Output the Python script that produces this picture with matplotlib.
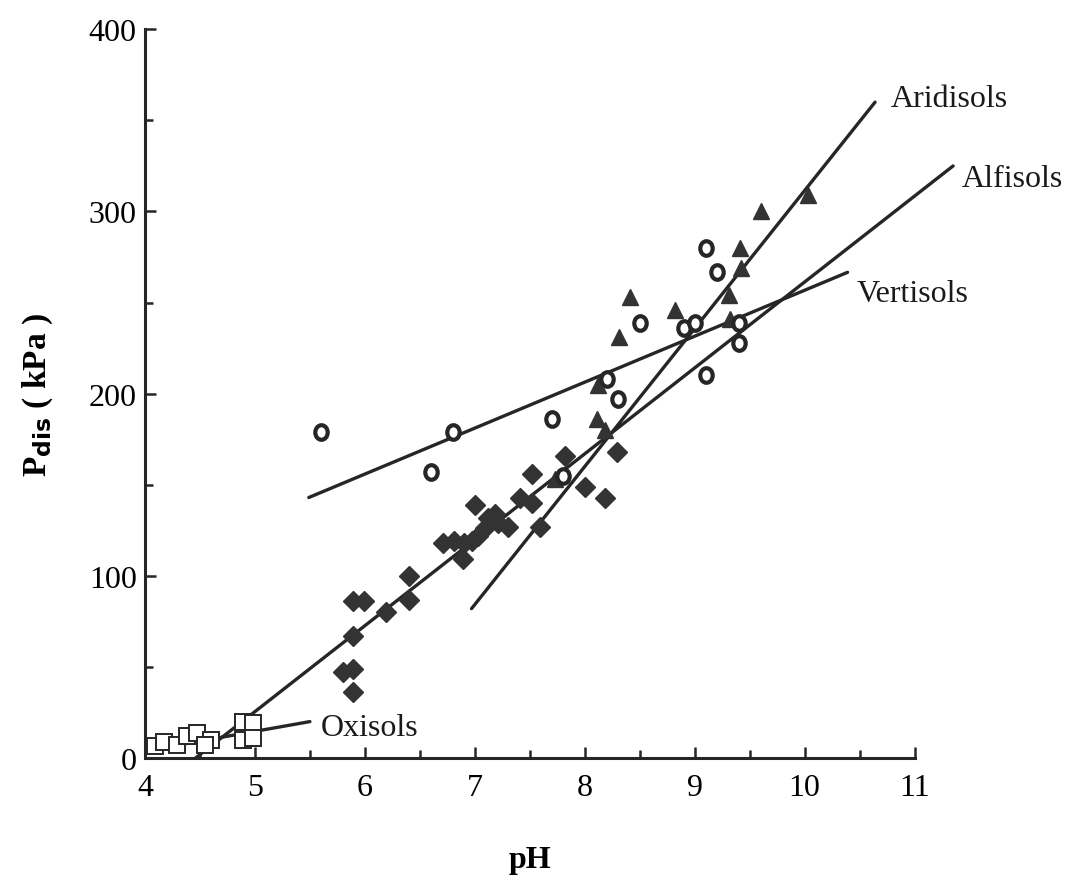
import matplotlib
matplotlib.use("Agg")
import matplotlib.pyplot as plt
from matplotlib.ticker import MultipleLocator
from matplotlib.path import Path

plt.rcParams['font.family'] = ['Liberation Serif', 'DejaVu Serif']

# Oxisols (open squares)
oxi_ph = [4.09, 4.17, 4.29, 4.38, 4.47, 4.60, 4.55, 4.89, 4.89, 4.98, 4.98]
oxi_p = [6.6, 8.8, 7.0, 12, 14, 10, 7, 20, 10, 19, 11]

# Vertisols (open circles)
vert_ph = [5.6, 6.6, 6.8, 7.7, 7.8, 8.2, 8.3, 8.5, 8.9, 9.0, 9.1, 9.2, 9.1, 9.4, 9.4]
vert_p = [179, 157, 179, 186, 155, 208, 197, 239, 236, 239, 280, 267, 210, 239, 228]

# Aridisols (filled triangles)
arid_ph = [9.60, 10.03, 9.41, 9.42, 9.31, 9.32, 8.41, 8.82, 8.31, 8.12, 8.11, 8.18, 7.73]
arid_p = [300, 309, 280, 269, 254, 241, 253, 246, 231, 205, 186, 180, 153]

# Alfisols (filled diamonds)
alf_ph = [8.29, 7.82, 8.0, 8.18, 7.52, 7.0, 7.41, 7.52, 7.59, 7.12, 7.18, 7.21, 7.09,
          7.03, 6.97, 6.90, 6.81, 6.71, 6.89, 7.30, 6.40, 6.40, 6.19, 5.89, 5.99,
          5.89, 5.80, 5.89, 5.89]
alf_p = [168, 166, 149, 143, 156, 139, 143, 140, 127, 132, 134, 129, 126,
         122, 119, 118, 119, 118, 109, 127, 100, 87, 80, 86, 86,
         67, 47, 49, 36]

# fitted lines (end points) and labels
line_names = ['Oxisols', 'Alfisols', 'Aridisols', 'Vertisols']
line_x = [[4.1, 5.5], [4.46, 11.35], [6.97, 10.64], [5.49, 10.39]]
line_y = [[5, 20], [0, 325], [82, 360], [143, 266.6]]
label_xy = [(5.6, 17), (11.43, 318), (10.78, 362), (10.47, 255)]

ink = '#262626'

# slightly tall ellipse, like the printed "o" markers
circ = Path.unit_circle()
oval = Path(circ.vertices * [0.85, 1.0], circ.codes)

fig = plt.figure(figsize=(10.66, 8.78), dpi=100)
ax = fig.add_axes([0.136, 0.1355, 0.722, 0.83])

for xs, ys in zip(line_x, line_y):
    ax.plot(xs, ys, color=ink, lw=2.4, solid_capstyle='round', zorder=2, clip_on=False)

ax.plot(oxi_ph, oxi_p, ls='none', marker='s', ms=11, mfc='white', mec=ink, mew=1.4, zorder=3, clip_on=False)
ax.plot(alf_ph, alf_p, ls='none', marker='D', ms=10, mfc='#333333', mec='#333333', zorder=3)
ax.plot(arid_ph, arid_p, ls='none', marker='^', ms=12, mfc='#333333', mec='#333333', zorder=3)
ax.plot(vert_ph, vert_p, ls='none', marker=oval, ms=10.5, mfc='white', mec=ink, mew=3.0, zorder=4)

for name, (lx, ly) in zip(line_names, label_xy):
    ax.text(lx, ly, name, fontsize=23, va='center', ha='left', color='#1a1a1a', clip_on=False)

ax.set_xlim(4, 11)
ax.set_ylim(0, 400)
ax.xaxis.set_major_locator(MultipleLocator(1))
ax.xaxis.set_minor_locator(MultipleLocator(0.5))
ax.yaxis.set_major_locator(MultipleLocator(100))
ax.yaxis.set_minor_locator(MultipleLocator(50))
for s in ['top', 'right']:
    ax.spines[s].set_visible(False)
for s in ['left', 'bottom']:
    ax.spines[s].set_linewidth(2.2)
    ax.spines[s].set_color(ink)
ax.tick_params(which='both', direction='in', width=1.8, color=ink, labelsize=23)
ax.tick_params(which='major', length=8)
ax.tick_params(which='minor', length=6)
ax.tick_params(axis='y', pad=6)
ax.tick_params(axis='x', pad=11)

ax.set_xlabel('pH', fontsize=23, fontweight='bold', labelpad=31)
ax.set_ylabel(r'P$_{\mathbf{dis}}$ ( kPa )', fontsize=24, fontweight='bold', labelpad=24)

fig.savefig('out.png', dpi=100)
